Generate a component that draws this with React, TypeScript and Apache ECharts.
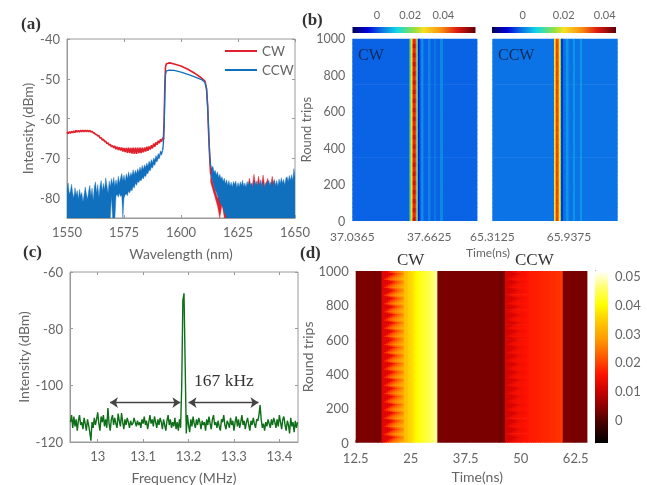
import React, { useEffect, useRef } from "react";
import * as echarts from "echarts";

// ---------- Panel (a) ----------
const blueLeftHigh = [
  -77.5,-76.2,-79,-78.2,-76.5,-78.8,-80,-77.4,-79.2,-78.1,
  -80.2,-77.8,-79.5,-78.6,-81,-79.1,-77.2,-78.9,-80.3,-78.2,
  -76.8,-79.4,-77.5,-80.6,-77.1,-75.9,-78.7,-76.6,-79.8,-76.9,
  -75.6,-78.2,-76.3,-77.9,-74.9,-76.8,-78.8,-75.7,-77.2,-75.1,
  -76.6,-74.8,-77,-75.4,-76.8,-74.5,-76.2,-74.9,-73.8,-75.6,
  -74.2,-75.8,-73.9,-75.1,-73.4,-74.8,-73.6,-74.4,-72.9,-74.1,
  -73,-73.9,-72.6,-73.5,-72.2,-73.1,-71.8,-72.8,-71.6,-72.3,
  -71.2,-72,-70.7,-71.5,-70.3,-71.1,-69.9,-70.4,-69.3,-69.9,
  -68.8,-69.2,-68.1,-68.5,-67.4,
];
const blueLeftLow = [
  -85,-85,-85,-85,-85,-85,-85,-85,-85,-85,
  -85,-85,-85,-85,-85,-85,-85,-85,-85,-85,
  -85,-85,-85,-85,-85,-85,-85,-85,-85,-85,
  -85,-85,-85,-85,-85,-85,-85,-85,-85,-79.5,
  -85,-85,-85,-79.5,-79,-79.8,-78.8,-79.6,-79.2,-85,
  -80,-79.2,-78.9,-79.4,-78.2,-78.7,-77.8,-78.2,-77,-77.5,
  -76.2,-76.8,-75.8,-76.1,-75.4,-75.7,-74.8,-75.2,-74.3,-74.6,
  -73.7,-73.9,-72.9,-73.2,-72.2,-72.5,-71.5,-71.8,-70.7,-70.9,
  -70,-70.1,-69,-69.2,-68.2,
];
const bandWavelengths = [1592.3,1592.6,1592.9,1593.2,1593.6,1595,1597,1600,1603,1606,1609,1610.5,1611.2,1611.7,1612.2,1612.6,1613];
const blueBand = [-66,-62,-54,-49,-48,-47.8,-47.9,-48.3,-48.9,-49.5,-50.2,-50.9,-52.5,-57,-64,-69,-72];
const redBand = [-64.8,-61,-52,-47,-46.2,-46,-46.3,-46.8,-47.6,-48.6,-49.8,-50.6,-52.5,-57,-65,-70,-74];
const blueRightHigh = [
  -71.5,-72.5,-72,-73.5,-73,-74.2,-73.4,-74.8,-74,-75.2,
  -74.6,-75.8,-75,-76.4,-75.4,-76.8,-75.6,-77,-76,-77.2,
  -75.8,-76.6,-75.7,-77.4,-76.1,-77.2,-75.9,-76.8,-75.5,-77.1,
  -76.2,-77.3,-75.8,-76.9,-75.9,-76.8,-76.2,-77.5,-75.6,-76.7,
  -75.7,-77,-76.1,-76.8,-75.4,-77.2,-76,-77.6,-76.4,-75.8,
  -76.9,-75.5,-76.7,-75.9,-77.2,-76,-75.3,-76.8,-75.6,-77,
  -75.2,-76.4,-74.9,-76.2,-75.3,-76.7,-75,-74.6,-75.8,-74.3,
  -75.5,-74.1,-75.6,-72.6,-74.7,
];
const blueRightLow = [
  -74,-75,-76,-77,-78,-78.5,-79.5,-80,-81,-81.5,
  -82,-82.5,-83.5,-84,-85,-85,-85,-85,-85,-85,
  -85,-85,-85,-85,-85,-85,-85,-85,-85,-85,
  -85,-85,-85,-85,-85,-85,-85,-85,-85,-85,
  -85,-85,-85,-85,-85,-85,-85,-85,-85,-85,
  -85,-85,-85,-85,-85,-85,-85,-85,-85,-85,
  -85,-85,-85,-85,-85,-85,-85,-85,-85,-85,
  -85,-85,-85,-85,-85,
];
const redLeft = [
  -63.6,-63.5,-63.4,-63.3,-63.2,-63.2,-63.1,-63.1,-63.1,-63.1,
  -63.2,-63.4,-63.8,-64.2,-64.6,-65.1,-65.5,-66,-66.4,-66.8,
  -67.1,-67.3,-67.5,-67.6,-67.8,-67.9,-68,-68,-68.1,-68.1,
  -68.1,-68,-68,-67.9,-67.8,-67.6,-67.4,-67.1,-66.7,-66.3,
  -65.9,-65.5,-65,
];
const redLeftSpread = [
  0.2,0.2,0.2,0.2,0.2,0.2,0.2,0.2,0.2,0.2,
  0.2,0.2,0.2,0.2,0.3,0.3,0.3,0.3,0.3,0.3,
  0.3,0.4,0.4,0.4,0.5,0.5,0.6,0.7,0.7,0.8,
  0.8,0.7,0.7,0.6,0.5,0.5,0.4,0.4,0.4,0.3,
  0.3,0.3,0.2,
];
const redRightHigh = [
  -74,-76,-78,-80,-79,-81,-79,-80,-78,-79,
  -78,-78,-78,-77.5,-78,-78,-78,-75,-78,-74,
  -78,-74.5,-78,-74.2,-78,-75,-78,-74.5,-78,-78,
  -77,-78,-77,-78,-77,-78,-77,-78,
];
const redRightLow = [
  -76,-78,-80,-82,-85,-81.5,-85,-85,-85,-85,
  -85,-85,-85,-85,-85,-85,-85,-85,-85,-85,
  -85,-85,-85,-85,-85,-85,-85,-85,-85,-85,
  -85,-85,-85,-85,-85,-85,-85,-85,
];
const aXTicks = [1550, 1575, 1600, 1625, 1650];
const aYTicks = [-80, -70, -60, -50, -40];

// ---------- Panel (b) ----------
const bLeftEdges = [37.0365,37.5016,37.5137,37.5219,37.53,37.5504,37.5585,37.5625,37.5707,37.5829,37.595,37.6154,37.652,37.672,37.7007,37.717,37.7495,37.7739,38.048];
const bLeftValues = [0.0015,0.0186,0.028,0.042,0.0505,0.044,0.03,0.012,-0.004,0.0015,0.0052,0.0015,0.0045,0.0015,0.0035,0.0015,0.005,0.0015];
const bRightEdges = [65.3125,65.8154,65.8276,65.8357,65.8439,65.8561,65.8643,65.8724,65.8781,65.8903,65.9131,65.9335,65.9702,65.9865,66.0273,66.0436,66.329];
const bRightValues = [-0.0005,0.0201,0.0298,0.0382,0.0298,0.0201,0.0134,-0.0045,-0.0045,-0.0005,0.0022,-0.0005,0.002,-0.0005,0.0022,-0.0005];
const bRowPulse = [1, 0.94];
const bLeftTicks = [37.0365, 37.6625];
const bRightTicks = [65.3125, 65.9375];
const bBarTicks = [0, 0.02, 0.04];
const roundTicks = [0, 200, 400, 600, 800, 1000];
const jetStops: [number, string][] = [
  [0, "#00005a"],[0.12, "#0000d8"],[0.22, "#0a62e4"],[0.36, "#10d8e8"],[0.5, "#90e040"],
  [0.58, "#f8e020"],[0.72, "#f89010"],[0.85, "#e01a10"],[1, "#600008"],
];

// ---------- Panel (c) ----------
const freqStart = 12.94;
const freqStep = 0.0025;
const spectrum = [
  -113,-110.5,-115,-111,-114.5,-112,-116,-112.5,-110.5,-114,
  -113,-115.5,-111.5,-113.5,-116,-112,-114,-116.5,-119.5,-113,
  -115,-111.5,-114,-112,-109.5,-113.5,-116,-111,-113,-110.5,
  -114.5,-112,-115,-108,-113.5,-116,-112,-110.5,-114,-111.5,
  -113.5,-115,-110,-112.5,-114.5,-109.8,-113,-115.5,-112,-114,
  -111.5,-113,-115,-112.5,-114,-113.5,-111.5,-113,-114.5,-112.5,
  -114,-113,-115,-112,-113.5,-111,-114,-112.5,-115.5,-113,
  -110.5,-113.5,-112,-114.5,-111,-113,-115,-112,-114,-111.5,
  -113,-115.5,-112,-114,-116,-112.5,-110.5,-114,-112,-115,
  -113,-114.5,-111.5,-115.5,-113,-116,-112,-115,-100,-70,
  -67.5,-92,-117,-110.5,-114,-116.5,-112,-114.5,-111,-113.5,
  -115,-112,-114,-111.5,-113,-115.5,-112.5,-114,-113,-116,
  -112,-114,-111,-113.5,-115.5,-112,-110.5,-114,-113,-115,
  -112.5,-114.5,-116,-112,-113,-110.5,-114,-115.5,-112.5,-113.5,
  -115,-111.5,-114,-112.5,-116,-113,-111,-114.5,-112,-115,
  -113,-110.5,-114,-112.5,-115.5,-113,-111.5,-114,-116,-112.5,
  -114,-111.5,-113.5,-115,-112,-112.5,-110.5,-107,-112,-115,
  -113.5,-116,-113,-114.5,-112,-113.5,-115,-112,-114,-111.5,
  -113,-115,-112,-114.5,-110.5,-113,-115.5,-112,-111,-114,
  -116,-112.5,-114,-117,-111.5,-114.5,-113,-116.5,-112.5,-115,
  -113,
];
const cXTicks = [13, 13.1, 13.2, 13.3, 13.4];
const cYTicks = [-120, -100, -80, -60];
const arrowLeft = [13.027, 13.182];
const arrowRight = [13.2, 13.354];
const arrowLevel = -106.1;

// ---------- Panel (d) ----------
const dBackground: [number, number, number][] = [
  [12.5, 17.5, 0.0033],[17.5, 18.4, 0.0028],[30.9, 45, 0.003],[45, 46.4, 0.0024],[59.4, 62, 0.0033],[62, 65, 0.0028],
];
const dColumnWidth = 0.5;
const dCwStart = 18.4;
const dCcwStart = 46.4;
const dCwValues = [0.0125,0.0165,0.0195,0.022,0.024,0.0255,0.027,0.0285,0.0295,0.031,0.0325,0.0335,0.035,0.036,0.0375,0.039,0.04,0.041,0.042,0.0425,0.0435,0.044,0.045,0.046,0.0475];
const dCcwValues = [0.0115,0.0128,0.0138,0.0145,0.015,0.015,0.0155,0.0155,0.016,0.016,0.016,0.0165,0.0165,0.0165,0.017,0.017,0.017,0.0175,0.0175,0.0175,0.018,0.018,0.018,0.0185,0.0185,0.019];
const dScallopShift = [0, 1, 2, 3, 4, 2];
const dScallopColumns = 10;
const dRowCount = 126;
const dXTicks = [12.5, 25, 37.5, 50, 62.5];
const dBarTicks = [0, 0.01, 0.02, 0.03, 0.04, 0.05];
const hotStops: [number, string][] = [
  [-0.008, "#000000"],[0, "#500000"],[0.003, "#7a0000"],[0.01, "#c80000"],[0.016, "#ff1400"],
  [0.022, "#ff5a00"],[0.028, "#ff9a00"],[0.034, "#ffc800"],[0.04, "#ffff00"],[0.046, "#ffff70"],[0.0517, "#ffffff"],
];

const SANS = "Lato";
const SERIF = "Liberation Serif";
const GREY = "#666666";
const BORDER = "#9a9a9a";

function hex(c: string) {
  return [1, 3, 5].map((i) => parseInt(c.slice(i, i + 2), 16));
}
function colorAt(stops: [number, string][], v: number) {
  if (v <= stops[0][0]) return stops[0][1];
  for (let i = 1; i < stops.length; i++) {
    if (v <= stops[i][0]) {
      const t = (v - stops[i - 1][0]) / (stops[i][0] - stops[i - 1][0]);
      const a = hex(stops[i - 1][1]);
      const b = hex(stops[i][1]);
      return `rgb(${a.map((x, k) => Math.round(x + (b[k] - x) * t)).join(",")})`;
    }
  }
  return stops[stops.length - 1][1];
}

function ranges(start: number, step: number, high: number[], low: number[]) {
  return high.map((h, i) => [start + i * step, h, low[i]]);
}

function redLineData() {
  const out: number[][] = [];
  redLeft.forEach((v, i) => {
    out.push([1550 + i, v + redLeftSpread[i]]);
    out.push([1550 + i + 0.5, v - redLeftSpread[i]]);
  });
  return [...out, ...bandWavelengths.map((w, i) => [w, redBand[i]])];
}
function blueBandData() {
  return [[1592, -67.8], ...bandWavelengths.map((w, i) => [w, blueBand[i]])];
}

// One polygon per run of hi/lo samples: a single filled shape has no antialiasing seams.
function envelopeSeries(name: string, color: string, data: number[][]) {
  return {
    name,
    type: "custom",
    xAxisIndex: 0,
    yAxisIndex: 0,
    clip: true,
    silent: true,
    itemStyle: { color },
    encode: { x: 0, y: [1, 2] },
    renderItem: (params: any, api: any) => {
      if (params.dataIndex !== 0) return null;
      const top = data.map((d) => api.coord([d[0], d[1]]));
      const bottom = data.map((d) => api.coord([d[0], d[2]])).reverse();
      return {
        type: "polygon",
        shape: { points: [...top, ...bottom] },
        style: { fill: color, stroke: color, lineWidth: 0.4 },
      };
    },
    data,
  };
}

function stripeCells(edges: number[], values: number[]) {
  const rows = 40;
  const h = 1000 / rows;
  const cells: number[][] = [];
  for (let r = 0; r < rows; r++) {
    const f = bRowPulse[r % bRowPulse.length];
    values.forEach((v, i) => {
      cells.push([edges[i], edges[i + 1], r * h, (r + 1) * h, v > 0.035 ? v * f : v]);
    });
  }
  return cells;
}

function hotCells() {
  const cells: number[][] = dBackground.map(([a, b, v]) => [a, b, 0, 1000, v]);
  const rowH = 1000 / dRowCount;
  const band = (start: number, values: number[]) => {
    values.forEach((v, i) => {
      const x0 = start + i * dColumnWidth;
      const x1 = x0 + dColumnWidth;
      if (i < dScallopColumns) {
        for (let r = 0; r < dRowCount; r++) {
          const pos = Math.max(0, i - dScallopShift[r % dScallopShift.length]);
          cells.push([x0, x1, r * rowH, (r + 1) * rowH, values[pos]]);
        }
      } else {
        cells.push([x0, x1, 0, 1000, v]);
      }
    });
  };
  band(dCwStart, dCwValues);
  band(dCcwStart, dCcwValues);
  return cells;
}

function heatRender(colour: (v: number) => string) {
  return (_p: any, api: any) => {
    const a = api.coord([api.value(0), api.value(3)]);
    const b = api.coord([api.value(1), api.value(2)]);
    return {
      type: "rect",
      shape: { x: a[0], y: a[1], width: b[0] - a[0] + 0.7, height: b[1] - a[1] + 0.7 },
      style: { fill: colour(api.value(4)) },
    };
  };
}

function heatSeries(axis: number, data: number[][], colour: (v: number) => string) {
  return {
    type: "custom",
    xAxisIndex: axis,
    yAxisIndex: axis,
    clip: true,
    silent: true,
    encode: { x: [0, 1], y: [2, 3] },
    renderItem: heatRender(colour),
    data,
  };
}

function barSeries(axis: number, data: number[][], vertical: boolean, stops: { offset: number; color: string }[]) {
  return {
    type: "custom",
    xAxisIndex: axis,
    yAxisIndex: axis,
    silent: true,
    encode: { x: [0, 1], y: [2, 3] },
    renderItem: (_p: any, api: any) => {
      const a = api.coord([api.value(0), api.value(3)]);
      const b = api.coord([api.value(1), api.value(2)]);
      return {
        type: "rect",
        shape: { x: a[0], y: a[1], width: b[0] - a[0], height: b[1] - a[1] },
        style: {
          fill: vertical
            ? new echarts.graphic.LinearGradient(0, 1, 0, 0, stops)
            : new echarts.graphic.LinearGradient(0, 0, 1, 0, stops),
        },
      };
    },
    data,
  };
}

const label = (size = 13, color = GREY) => ({ fontFamily: SANS, fontSize: size, color });
const hiddenAxis = (grid: number, min: number, max: number) => ({
  type: "value", gridIndex: grid, min, max, show: false, splitLine: { show: false },
});

function mainAxis(grid: number, min: number, max: number, ticks: number[], extra: any = {}, size = 13, margin = 7) {
  return {
    type: "value",
    gridIndex: grid,
    min,
    max,
    splitLine: { show: false },
    axisLine: { show: true, onZero: false, lineStyle: { color: BORDER, width: 1 } },
    axisTick: { show: true, inside: true, length: 3, customValues: ticks, lineStyle: { color: BORDER } },
    axisLabel: { show: true, margin, customValues: ticks, hideOverlap: false, formatter: (v: number) => String(v), ...label(size) },
    nameLocation: "middle",
    nameTextStyle: label(14),
    ...extra,
  };
}

function mirrorAxis(grid: number, min: number, max: number, ticks: number[], position: string) {
  return {
    type: "value",
    gridIndex: grid,
    min,
    max,
    position,
    splitLine: { show: false },
    axisLine: { show: false },
    axisLabel: { show: false },
    axisTick: { show: true, inside: true, length: 3, customValues: ticks, lineStyle: { color: BORDER } },
  };
}

export default function App() {
  const ref = useRef<HTMLDivElement>(null);
  useEffect(() => {
    const chart = echarts.init(ref.current!, undefined, { renderer: "svg" });
    const jetGradient = jetStops.map(([offset, color]) => ({ offset, color }));
    const hotMin = hotStops[0][0];
    const hotMax = hotStops[hotStops.length - 1][0];
    const hotGradient = hotStops.map(([v, color]) => ({ offset: (v - hotMin) / (hotMax - hotMin), color }));
    const barL = { min: -0.0148, max: 0.0594 };
    const barR = { min: -0.015, max: 0.0455 };
    const jetFor = (bar: { min: number; max: number }) => (v: number) =>
      colorAt(jetStops, (v - bar.min) / (bar.max - bar.min));
    const RED = "#e0202c";
    const BLUE = "#1170bd";
    const noAxisMarks = { axisLine: { show: false }, axisTick: { show: false } };

    chart.setOption({
      animation: false,
      backgroundColor: "#ffffff",
      legend: {
        data: [
          { name: "CW", icon: "rect" },
          { name: "CCW", icon: "rect" },
        ],
        orient: "vertical",
        left: 220,
        top: 39,
        itemWidth: 32,
        itemHeight: 2,
        itemGap: 5,
        itemStyle: {},
        textStyle: { ...label(13.5) },
        selectedMode: false,
      },
      grid: [
        { left: 67, top: 39, width: 228, height: 179, show: true, borderColor: BORDER, backgroundColor: "transparent" },
        { left: 352.3, top: 38.5, width: 124.4, height: 182.5 },
        { left: 492.3, top: 38.5, width: 124.7, height: 182.5 },
        { left: 70, top: 272, width: 228, height: 173, show: true, borderColor: BORDER, backgroundColor: "transparent" },
        { left: 355.7, top: 271, width: 231, height: 171.7 },
        { left: 352.5, top: 27, width: 123, height: 6 },
        { left: 492, top: 27, width: 124, height: 6 },
        { left: 595, top: 271, width: 13, height: 172 },
      ],
      xAxis: [
        mainAxis(0, 1550, 1650, aXTicks, { name: "Wavelength (nm)", nameGap: 28 }),
        mainAxis(1, 37.0365, 38.048, bLeftTicks, noAxisMarks, 12, 9),
        mainAxis(2, 65.3125, 66.329, bRightTicks, noAxisMarks, 12, 9),
        mainAxis(3, 12.939, 13.441, cXTicks, { name: "Frequency (MHz)", nameGap: 28 }),
        mainAxis(4, 12.5, 65, dXTicks, { name: "Time(ns)", nameGap: 27, nameTextStyle: { ...label(14), padding: [0, 0, 0, 12] }, axisLine: { show: false } }, 13, 9),
        { ...mainAxis(5, barL.min, barL.max, bBarTicks, noAxisMarks, 11), position: "top" },
        { ...mainAxis(6, barR.min, barR.max, bBarTicks, noAxisMarks, 11), position: "top" },
        hiddenAxis(7, 0, 1),
        mirrorAxis(0, 1550, 1650, aXTicks, "top"),
        mirrorAxis(3, 12.939, 13.441, cXTicks, "top"),
      ],
      yAxis: [
        mainAxis(0, -85, -40, aYTicks, { name: "Intensity (dBm)", nameGap: 33 }),
        mainAxis(1, 0, 1000, roundTicks, { name: "Round trips", nameGap: 28, nameTextStyle: label(13), ...noAxisMarks }, 12.5),
        mainAxis(2, 0, 1000, roundTicks, { ...noAxisMarks, axisLabel: { show: false } }),
        mainAxis(3, -120, -60, cYTicks, { name: "Intensity (dBm)", nameGap: 40 }),
        mainAxis(4, 0, 1000, roundTicks, { name: "Round trips", nameGap: 36, axisLine: { show: false } }),
        hiddenAxis(5, 0, 1),
        hiddenAxis(6, 0, 1),
        {
          ...mainAxis(7, hotMin, hotMax, dBarTicks, { axisLine: { show: true, lineStyle: { color: "#555555" } }, axisTick: { show: false } }, 13),
          position: "right",
        },
        mirrorAxis(0, -85, -40, aYTicks, "right"),
        mirrorAxis(3, -120, -60, cYTicks, "right"),
      ],
      series: [
        {
          name: "CW",
          type: "line",
          xAxisIndex: 0,
          yAxisIndex: 0,
          showSymbol: false,
          symbol: "none",
          color: RED,
          lineStyle: { width: 1.6 },
          data: redLineData(),
          silent: true,
        },
        envelopeSeries("CW", RED, ranges(1613, 1, redRightHigh, redRightLow)),
        envelopeSeries("CCW", BLUE, ranges(1550, 0.5, blueLeftHigh, blueLeftLow)),
        envelopeSeries("CCW", BLUE, ranges(1613, 0.5, blueRightHigh, blueRightLow)),
        {
          name: "CCW",
          type: "line",
          xAxisIndex: 0,
          yAxisIndex: 0,
          showSymbol: false,
          symbol: "none",
          color: BLUE,
          lineStyle: { width: 1.3 },
          data: blueBandData(),
          silent: true,
        },
        heatSeries(1, stripeCells(bLeftEdges, bLeftValues), jetFor(barL)),
        heatSeries(2, stripeCells(bRightEdges, bRightValues), jetFor(barR)),
        {
          type: "line",
          name: "spectrum",
          xAxisIndex: 3,
          yAxisIndex: 3,
          showSymbol: false,
          symbol: "none",
          color: "#0f6e18",
          lineStyle: { width: 1.4 },
          data: spectrum.map((v, i) => [freqStart + i * freqStep, v]),
          silent: true,
          markLine: {
            silent: true,
            symbol: ["arrow", "arrow"],
            symbolSize: 8,
            label: { show: false },
            lineStyle: { color: "#444444", width: 1.3, type: "solid" },
            data: [
              [{ coord: [arrowLeft[0], arrowLevel] }, { coord: [arrowLeft[1], arrowLevel] }],
              [{ coord: [arrowRight[0], arrowLevel] }, { coord: [arrowRight[1], arrowLevel] }],
            ],
          },
        },
        heatSeries(4, hotCells(), (v) => colorAt(hotStops, v)),
        barSeries(5, [[barL.min, barL.max, 0, 1]], false, jetGradient),
        barSeries(6, [[barR.min, barR.max, 0, 1]], false, jetGradient),
        barSeries(7, [[0, 1, hotMin, hotMax]], true, hotGradient),
      ],
      graphic: [
        { type: "text", x: 21, y: 15, style: { text: "(a)", font: `bold 17px "${SERIF}"`, fill: "#333333" } },
        { type: "text", x: 302, y: 11, style: { text: "(b)", font: `bold 17px "${SERIF}"`, fill: "#333333" } },
        { type: "text", x: 23, y: 243, style: { text: "(c)", font: `bold 17px "${SERIF}"`, fill: "#333333" } },
        { type: "text", x: 300, y: 244, style: { text: "(d)", font: `bold 17px "${SERIF}"`, fill: "#333333" } },
        { type: "text", x: 358, y: 46, z: 20, style: { text: "CW", font: `16px "${SERIF}"`, fill: "#0b2a5a" } },
        { type: "text", x: 498, y: 46, z: 20, style: { text: "CCW", font: `16px "${SERIF}"`, fill: "#0b2a5a" } },
        { type: "text", x: 397, y: 251, style: { text: "CW", font: `17px "${SERIF}"`, fill: "#333333" } },
        { type: "text", x: 515, y: 251, style: { text: "CCW", font: `17px "${SERIF}"`, fill: "#333333" } },
        { type: "text", x: 466, y: 246, style: { text: "Time(ns)", font: `12px "${SANS}"`, fill: GREY } },
        { type: "text", x: 194, y: 371, style: { text: "167 kHz", font: `17.5px "${SERIF}"`, fill: "#333333" } },
      ],
    });
    return () => chart.dispose();
  }, []);
  return (
    <div
      ref={ref}
      style={{ position: "absolute", left: 0, top: 0, width: 647, height: 485, filter: "blur(0.4px)" }}
    />
  );
}
